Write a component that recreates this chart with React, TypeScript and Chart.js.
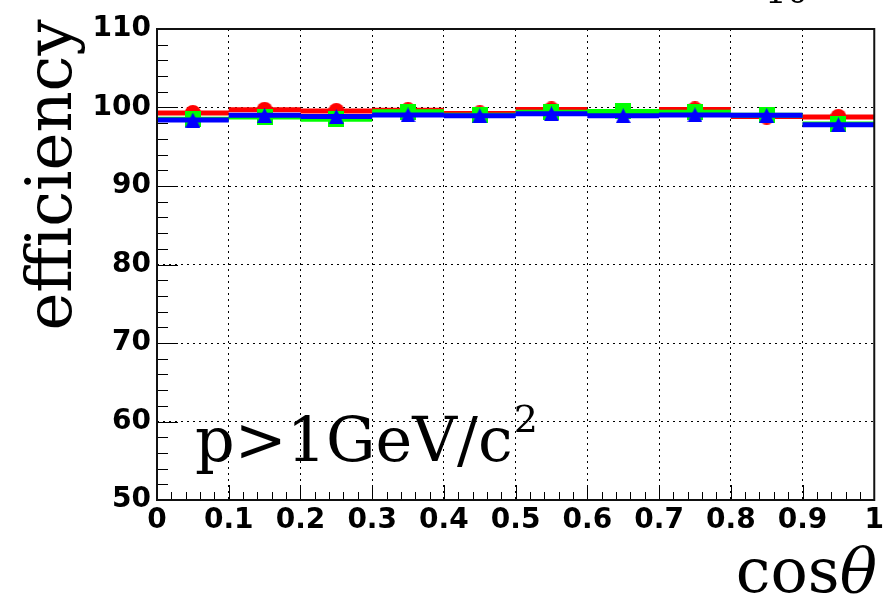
import React, { useEffect, useRef } from "react";
import { Chart, registerables } from "chart.js";

Chart.register(...registerables);

// ---- data ----
const binEdges = [0, 0.1, 0.2, 0.3, 0.4, 0.5, 0.6, 0.7, 0.8, 0.9, 1.0];
const redValues = [99.3, 99.7, 99.55, 99.65, 99.25, 99.75, 99.45, 99.75, 98.85, 98.8];
const greenValues = [98.5, 98.8, 98.5, 99.45, 99.0, 99.4, 99.5, 99.4, 99.0, 97.9];
const blueValues = [98.4, 99.0, 98.85, 99.05, 98.95, 99.2, 98.95, 99.05, 99.0, 97.8];
const xTickLabels = ["0", "0.1", "0.2", "0.3", "0.4", "0.5", "0.6", "0.7", "0.8", "0.9", "1"];
const yTickLabels = ["50", "60", "70", "80", "90", "100", "110"];
const xMinorStep = 0.02;
const yMinorStep = 2;

function makeMarker(kind: string, color: string): HTMLCanvasElement {
  const c = document.createElement("canvas");
  const s = kind === "triangle" ? 15 : 16;
  c.width = s;
  c.height = s;
  const g = c.getContext("2d")!;
  g.fillStyle = color;
  if (kind === "circle") {
    g.beginPath();
    g.arc(s / 2, s / 2, s / 2, 0, Math.PI * 2);
    g.fill();
  } else if (kind === "rect") {
    g.fillRect(0, 0, s, s);
  } else {
    g.beginPath();
    g.moveTo(s / 2, 0);
    g.lineTo(s, s);
    g.lineTo(0, s);
    g.closePath();
    g.fill();
  }
  return c;
}

function buildSeries(values: number[]) {
  const pts: { x: number; y: number | null }[] = [];
  const radii: number[] = [];
  values.forEach((v, i) => {
    const lo = binEdges[i];
    const hi = binEdges[i + 1];
    pts.push({ x: lo, y: v });
    radii.push(0);
    pts.push({ x: (lo + hi) / 2, y: v });
    radii.push(8);
    pts.push({ x: hi, y: v });
    radii.push(0);
    pts.push({ x: hi, y: null });
    radii.push(0);
  });
  return { pts, radii };
}

const rootPlugin = {
  id: "rootDecor",
  afterDraw(chart: any) {
    const ctx = chart.ctx as CanvasRenderingContext2D;
    const a = chart.chartArea;
    const xs = chart.scales.x;
    const ys = chart.scales.y;
    ctx.save();
    ctx.strokeStyle = "#000";
    ctx.lineWidth = 1;
    // y ticks
    const yMin = ys.min, yMax = ys.max;
    for (let v = yMin; v <= yMax + 1e-9; v += yMinorStep) {
      const r = (v - yMin) % 10;
      const major = Math.abs(r) < 1e-6 || Math.abs(r - 10) < 1e-6;
      const py = Math.round(ys.getPixelForValue(v)) + 0.5;
      const len = major ? 21 : 11;
      ctx.beginPath();
      ctx.moveTo(a.left, py);
      ctx.lineTo(a.left + len, py);
      ctx.stroke();
    }
    // x ticks
    for (let k = 0; k <= 50; k++) {
      const v = k * xMinorStep;
      const major = k % 5 === 0;
      const px = Math.round(xs.getPixelForValue(v)) + 0.5;
      const len = major ? 15 : 8;
      ctx.beginPath();
      ctx.moveTo(px, a.bottom);
      ctx.lineTo(px, a.bottom - len);
      ctx.stroke();
    }
    // frame
    ctx.lineWidth = 2;
    ctx.strokeStyle = "#111";
    ctx.strokeRect(a.left, a.top, a.right - a.left, a.bottom - a.top);

    // texts
    ctx.fillStyle = "#000";
    ctx.textBaseline = "alphabetic";
    const serif = '"DejaVu Serif", serif';
    // y title
    ctx.save();
    ctx.translate(71, 175);
    ctx.rotate(-Math.PI / 2);
    ctx.font = `64px ${serif}`;
    ctx.textAlign = "center";
    ctx.fillText("efficiency", 0, 0);
    ctx.restore();
    // x title
    ctx.font = `62px ${serif}`;
    ctx.textAlign = "left";
    const cosW = ctx.measureText("cos").width;
    ctx.font = `italic 62px ${serif}`;
    const thW = ctx.measureText("θ").width;
    const xStart = 877 - cosW - thW;
    ctx.font = `62px ${serif}`;
    ctx.fillText("cos", xStart, 592);
    ctx.font = `italic 62px ${serif}`;
    ctx.fillText("θ", xStart + cosW, 592);
    // annotation
    ctx.font = `62px ${serif}`;
    ctx.fillText("p>1GeV/c", 195, 461);
    const pw = ctx.measureText("p>1GeV/c").width;
    ctx.font = `38px ${serif}`;
    ctx.fillText("2", 195 + pw + 1, 432);
    // cut-off text at top
    ctx.font = `34px ${serif}`;
    ctx.fillText("10", 765, 3);
    ctx.restore();
  },
};

export default function App() {
  const ref = useRef<HTMLCanvasElement | null>(null);
  useEffect(() => {
    if (!ref.current) return;
    const red = buildSeries(redValues);
    const green = buildSeries(greenValues);
    const blue = buildSeries(blueValues);
    const tickFont = { family: '"DejaVu Sans", sans-serif', size: 28, weight: "bold" as const };
    const chart = new Chart(ref.current, {
      type: "line",
      data: {
        datasets: [
          {
            label: "blue",
            data: blue.pts as any,
            borderColor: "#0000ff",
            borderWidth: 5,
            pointRadius: blue.radii,
            pointStyle: makeMarker("triangle", "#0000ff") as any,
            spanGaps: false,
            order: 1,
          },
          {
            label: "green",
            data: green.pts as any,
            borderColor: "#00ff00",
            borderWidth: 5,
            pointRadius: green.radii,
            pointStyle: makeMarker("rect", "#00ff00") as any,
            spanGaps: false,
            order: 2,
          },
          {
            label: "red",
            data: red.pts as any,
            borderColor: "#ff0000",
            borderWidth: 5,
            pointRadius: red.radii,
            pointStyle: makeMarker("circle", "#ff0000") as any,
            spanGaps: false,
            order: 3,
          },
        ],
      },
      options: {
        responsive: false,
        animation: false,
        events: [],
        layout: { padding: { left: 0, top: 29, right: 13, bottom: 0 } },
        plugins: { legend: { display: false }, tooltip: { enabled: false } },
        scales: {
          x: {
            type: "linear",
            min: 0,
            max: 1,
            border: { display: false, dash: [2, 4] },
            grid: { color: "#000", lineWidth: 1, drawTicks: false },
            ticks: {
              stepSize: 0.1,
              padding: 4,
              color: "#000",
              font: tickFont,
              maxRotation: 0,
              autoSkip: false,
              callback: (_v: any, i: number) => xTickLabels[i],
            },
            afterFit: (s: any) => {
              s.height = 101;
            },
          },
          y: {
            type: "linear",
            min: 50,
            max: 110,
            border: { display: false, dash: [2, 4] },
            grid: { color: "#000", lineWidth: 1, drawTicks: false },
            ticks: {
              stepSize: 10,
              padding: 6,
              color: "#000",
              font: tickFont,
              callback: (_v: any, i: number) => yTickLabels[i],
            },
            afterFit: (s: any) => {
              s.width = 157;
            },
          },
        },
      },
      plugins: [rootPlugin],
    });
    return () => chart.destroy();
  }, []);
  return (
    <div style={{ position: "fixed", left: 0, top: 0, width: 888, height: 601, background: "#fff" }}>
      <canvas ref={ref} width={888} height={601} />
    </div>
  );
}
